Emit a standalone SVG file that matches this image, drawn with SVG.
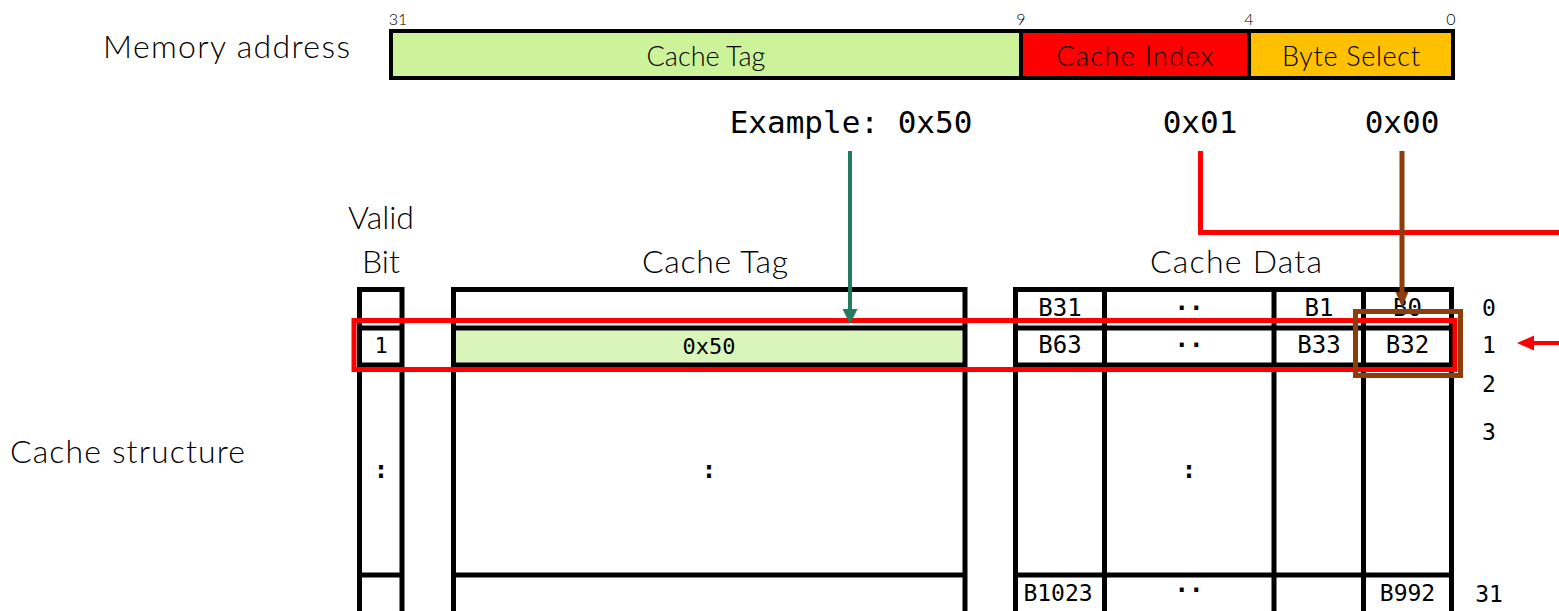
<svg xmlns="http://www.w3.org/2000/svg" width="1559" height="611" viewBox="0 0 1559 611">
<defs>
<style>
.lbl{font-family:Lato,"Open Sans","Liberation Sans",sans-serif;font-weight:300;fill:#000}
.mono{font-family:"DejaVu Sans Mono","Liberation Mono",monospace;fill:#000}
.grid{fill:none;stroke:#000;stroke-width:5}
</style>
</defs>
<rect width="1559" height="611" fill="#fff"/>

<g id="memory-address">
<text class="lbl" x="103" y="58" font-size="32" textLength="247" lengthAdjust="spacing">Memory address</text>
<text class="lbl" x="398" y="25" font-size="16" text-anchor="middle">31</text>
<text class="lbl" x="1021" y="25" font-size="16" text-anchor="middle">9</text>
<text class="lbl" x="1249" y="25" font-size="16" text-anchor="middle">4</text>
<text class="lbl" x="1451" y="25" font-size="16" text-anchor="middle">0</text>
</g>
<g id="addr-tag">
<rect x="391" y="31" width="630" height="47" fill="#CCF29A" stroke="#000" stroke-width="4"/>
<text class="lbl" x="706" y="66" font-size="27" text-anchor="middle">Cache Tag</text>
</g>
<g id="addr-index">
<rect x="1021" y="31" width="228" height="47" fill="#FF0000" stroke="#000" stroke-width="4"/>
<text class="lbl" x="1135" y="66" font-size="27" text-anchor="middle" textLength="157" lengthAdjust="spacing">Cache Index</text>
</g>
<g id="addr-byte">
<rect x="1249" y="31" width="204" height="47" fill="#FFC000" stroke="#000" stroke-width="4"/>
<text class="lbl" x="1351" y="66" font-size="27" text-anchor="middle" textLength="138" lengthAdjust="spacing">Byte Select</text>
</g>

<g id="examples">
<text class="mono" x="851" y="133" font-size="31" text-anchor="middle">Example: 0x50</text>
<text class="mono" x="1200" y="133" font-size="31" text-anchor="middle">0x01</text>
<text class="mono" x="1402" y="133" font-size="31" text-anchor="middle">0x00</text>
</g>

<g id="labels">
<text class="lbl" x="381" y="229" font-size="32" text-anchor="middle">Valid</text>
<text class="lbl" x="381" y="273" font-size="32" text-anchor="middle">Bit</text>
<text class="lbl" x="715" y="273" font-size="32" text-anchor="middle" textLength="146" lengthAdjust="spacing">Cache Tag</text>
<text class="lbl" x="1236" y="273" font-size="32" text-anchor="middle" textLength="172" lengthAdjust="spacing">Cache Data</text>
<text class="lbl" x="10" y="463" font-size="32" textLength="235" lengthAdjust="spacing">Cache structure</text>
</g>

<g id="valid-column">
<path class="grid" d="M359.5,620 V289.5 H402 V620 M359.5,328 H402 M359.5,365 H402 M359.5,575 H402"/>
<text class="mono" x="381" y="353" font-size="22" text-anchor="middle">1</text>
<text class="mono" x="381" y="478" font-size="24" font-weight="bold" text-anchor="middle">:</text>
</g>

<g id="tag-column">
<rect x="456" y="330.5" width="506.5" height="32" fill="#DAF5BA"/>
<path class="grid" d="M453.5,620 V289.5 H965 V620 M453.5,328 H965 M453.5,365 H965 M453.5,575 H965"/>
<text class="mono" x="709" y="354" font-size="22" text-anchor="middle">0x50</text>
<text class="mono" x="709" y="478" font-size="24" font-weight="bold" text-anchor="middle">:</text>
</g>

<g id="data-column">
<path class="grid" d="M1015.5,620 V289.5 H1451.5 V620 M1015.5,328 H1451.5 M1015.5,365 H1451.5 M1015.5,575 H1451.5 M1104.5,289.5 V620 M1274,289.5 V620 M1363.5,289.5 V620"/>
<text class="mono" x="1060" y="316" font-size="24" text-anchor="middle">B31</text>
<text class="mono" x="1189" y="316" font-size="24" font-weight="bold" text-anchor="middle">··</text>
<text class="mono" x="1319" y="316" font-size="24" text-anchor="middle">B1</text>
<text class="mono" x="1407.5" y="316" font-size="24" text-anchor="middle">B0</text>
<text class="mono" x="1060" y="353" font-size="24" text-anchor="middle">B63</text>
<text class="mono" x="1189" y="353" font-size="24" font-weight="bold" text-anchor="middle">··</text>
<text class="mono" x="1319" y="353" font-size="24" text-anchor="middle">B33</text>
<text class="mono" x="1407.5" y="353" font-size="24" text-anchor="middle">B32</text>
<text class="mono" x="1189" y="478" font-size="24" font-weight="bold" text-anchor="middle">:</text>
<text class="mono" x="1058" y="601" font-size="23" text-anchor="middle">B1023</text>
<text class="mono" x="1189" y="598" font-size="24" font-weight="bold" text-anchor="middle">··</text>
<text class="mono" x="1407.5" y="601" font-size="23" text-anchor="middle">B992</text>
</g>

<g id="row-numbers">
<text class="mono" x="1489" y="316" font-size="23" text-anchor="middle">0</text>
<text class="mono" x="1489" y="353" font-size="23" text-anchor="middle">1</text>
<text class="mono" x="1489" y="392" font-size="23" text-anchor="middle">2</text>
<text class="mono" x="1489" y="440" font-size="23" text-anchor="middle">3</text>
<text class="mono" x="1489" y="602" font-size="23" text-anchor="middle">31</text>
</g>

<g id="connectors">
<rect x="354" y="320.5" width="1101" height="49" fill="none" stroke="#FF0000" stroke-width="5"/>
<rect x="1355.5" y="311.5" width="105" height="64" fill="none" stroke="#8B3E0A" stroke-width="5"/>
<path d="M1200.5,151 V232.5 H1559" fill="none" stroke="#FF0000" stroke-width="5"/>
<line x1="1559" y1="343" x2="1532" y2="343" stroke="#FF0000" stroke-width="4"/>
<path d="M1517,343 L1534,335.5 L1534,350.5 Z" fill="#FF0000"/>
<line x1="1402" y1="151" x2="1402" y2="294" stroke="#8B3E0A" stroke-width="5"/>
<path d="M1402,307 L1395.5,292 L1408.5,292 Z" fill="#8B3E0A"/>
<line x1="850" y1="151" x2="850" y2="311" stroke="#237A5F" stroke-width="4"/>
<path d="M850,324 L842.5,309 L857.5,309 Z" fill="#237A5F"/>
</g>
</svg>
